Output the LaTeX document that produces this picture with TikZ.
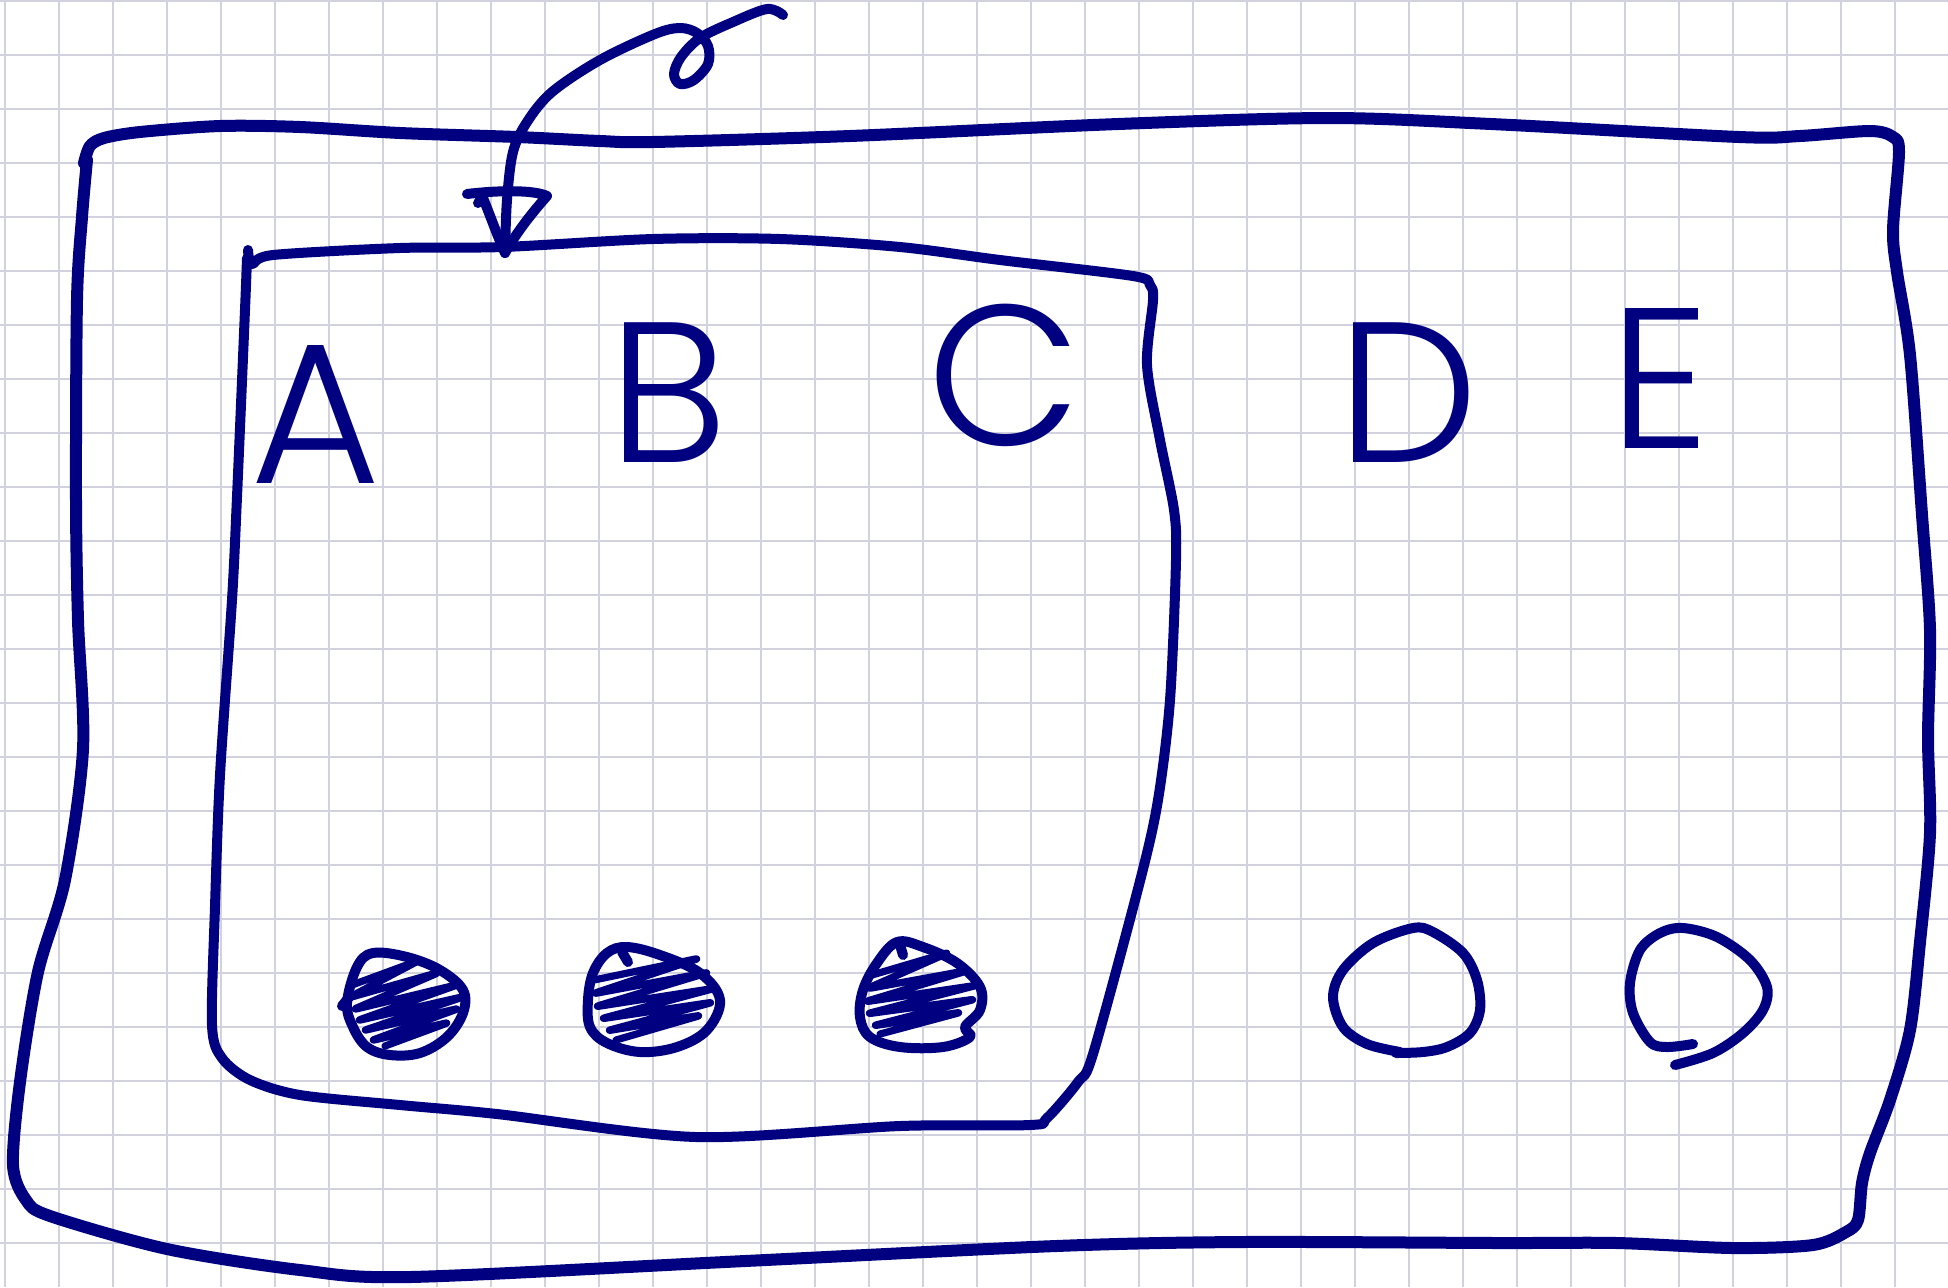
\documentclass[tikz,border=0pt]{standalone}
\usepackage{fontspec}
\newfontfamily\handfont{Poppins}[UprightFont=* Light]
\definecolor{ink}{RGB}{0,0,128}
\definecolor{gridc}{RGB}{210,210,222}
\tikzset{
  gridline/.style={draw=gridc, line width=1pt},
  outerstroke/.style={draw=ink, line width=6pt, line cap=round, line join=round},
  innerstroke/.style={draw=ink, line width=5pt, line cap=round, line join=round},
  scrib/.style={draw=ink, line width=3.6pt, line cap=round, line join=round, rounded corners=3pt},
  letter/.style={text=ink, font=\handfont\fontsize{100}{100}\selectfont, inner sep=0pt, anchor=base}
}
\begin{document}
\begin{tikzpicture}[x=0.5pt,y=-0.5pt]
\useasboundingbox (0,0) rectangle (1948,1287);
\fill[white] (0,0) rectangle (1948,1287);
\foreach \i in {0,...,35} \draw[gridline] ({5+54*\i},0) -- ({5+54*\i},1287);
\foreach \j in {0,...,23} \draw[gridline] (0,{1+54*\j}) -- (1948,{1+54*\j});

% outer box
\draw[outerstroke] plot[smooth, tension=0.5] coordinates {
 (84,163) (90,146) (104,138) (140,132) (220,126) (300,127) (400,133) (517,137) (600,141)
 (653,142) (850,136) (1118,124) (1329,118) (1491,124) (1739,137) (1800,136) (1870,131)
 (1893,137) (1899,152) (1893,230) (1897,272) (1910,355) (1922,515) (1930,630) (1928,738)
 (1930,833) (1920,942) (1910,1030) (1890,1100) (1870,1153) (1862,1183) (1858,1220)
 (1846,1232) (1813,1245) (1733,1248) (1617,1243) (1500,1243) (1242,1242) (1056,1246)
 (745,1261) (410,1277) (300,1270) (167,1249) (50,1216) (26,1200) (13,1165) (20,1082)
 (38,972) (65,880) (83,749) (78,620) (76,500) (77,300) (82,217) (87,160)};

% inner box
\draw[innerstroke] plot[smooth, tension=0.5] coordinates {
 (248,250) (252,264) (273,255) (400,248) (503,247) (653,239) (780,239) (900,247)
 (1000,260) (1133,276) (1150,285) (1153,300) (1147,365) (1160,440) (1174,510) (1176,560)
 (1170,700) (1158,800) (1140,881) (1093,1054) (1078,1082) (1047,1118) (1030,1125)
 (900,1126) (696,1137) (497,1114) (400,1105) (300,1095) (250,1080) (222,1058) (212,1025)
 (215,907) (220,775) (232,600) (237,497) (245,310) (247,258)};

% arrow from the loop down to the inner box
\coordinate (arrowstart) at (783,15);
\coordinate (arrowtip) at (505,253);
\draw[innerstroke] plot[smooth, tension=0.55] coordinates {
 (783,15) (767,9) (733,22) (700,38) (681,57) (674,74) (680,84) (694,80) (708,64)
 (708,46) (697,33) (680,28) (655,34) (600,60) (552,92) (527,122) (513,152) (507,200) (505,253)};
\draw[innerstroke] (467,194) .. controls (500,190) and (535,190) .. (547,196)
  .. controls (530,215) and (515,235) .. (arrowtip)
  .. controls (497,235) and (490,215) .. (483,198) -- (478,203);

% letters
\node[letter] (la) at (316,483) {A};
\node[letter] (lb) at (668,462) {B};
\node[letter] (lc) at (1005,445) {C};
\node[letter] (ld) at (1408,462) {D};
\node[letter] (le) at (1660,448) {E};

% scribbled circle A
\draw[innerstroke] plot[smooth cycle, tension=0.6] coordinates {
 (373,953) (407,957) (440,970) (463,990) (463,1013) (447,1037) (420,1053) (390,1055)
 (367,1047) (353,1027) (347,1003) (357,967)};
\draw[scrib] (352,985) -- (420,960) -- (348,998) -- (440,972) -- (352,1010) -- (460,984)
 -- (356,1021) -- (466,996) -- (362,1031) -- (460,1008) -- (370,1041) -- (450,1022)
 -- (385,1046);
\draw[innerstroke] (342,1006) -- (350,996);

% scribbled circle B
\draw[innerstroke] plot[smooth cycle, tension=0.6] coordinates {
 (607,953) (627,947) (660,955) (700,973) (720,1000) (707,1030) (677,1047) (640,1052)
 (607,1043) (590,1027) (588,1000) (593,973)};
\draw[scrib] (594,980) -- (700,958) -- (592,994) -- (710,972) -- (594,1007) -- (716,988)
 -- (600,1019) -- (714,1002) -- (606,1031) -- (702,1015) -- (616,1040);
\draw[innerstroke] (622,952) -- (628,962);

% scribbled circle C
\draw[innerstroke] plot[smooth cycle, tension=0.6] coordinates {
 (897,942) (923,947) (957,963) (980,987) (980,1010) (965,1027) (970,1037) (943,1047)
 (900,1047) (870,1037) (860,1017) (863,990) (877,963)};
\draw[scrib] (872,975) -- (950,952) -- (866,989) -- (970,970) -- (864,1002) -- (978,985)
 -- (866,1014) -- (976,999) -- (872,1026) -- (962,1012) -- (880,1034);
\draw[innerstroke] (900,945) -- (903,955);

% plain circle D
\draw[innerstroke] plot[smooth, tension=0.55] coordinates {
 (1400,1052) (1367,1044) (1343,1027) (1333,997) (1343,970) (1373,943) (1413,928)
 (1433,932) (1463,953) (1477,980) (1480,1010) (1470,1033) (1447,1047) (1423,1052) (1396,1053)};

% open circle E
\draw[innerstroke] plot[smooth, tension=0.55] coordinates {
 (1693,1044) (1667,1047) (1650,1042) (1633,1013) (1630,983) (1640,950) (1660,933)
 (1683,928) (1717,937) (1750,960) (1767,987) (1763,1010) (1743,1033) (1713,1053) (1675,1065)};
\end{tikzpicture}
\end{document}
